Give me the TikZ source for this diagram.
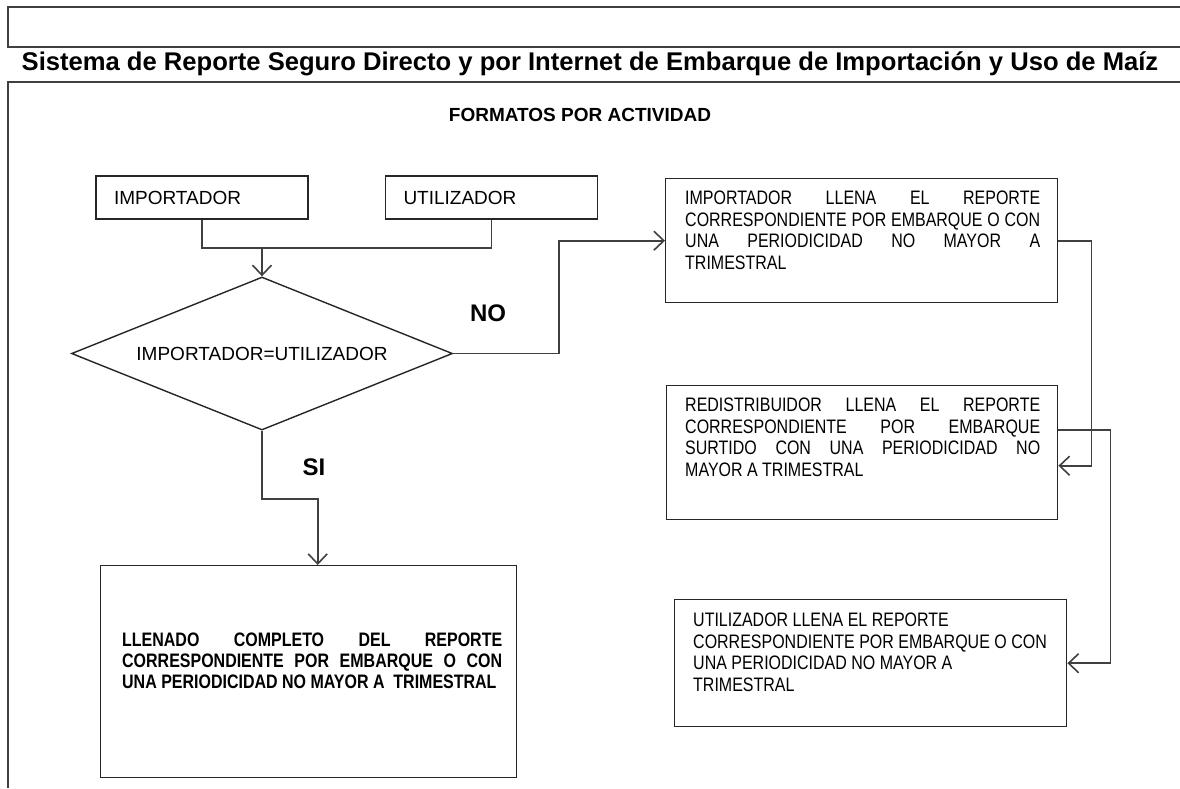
\documentclass[tikz,border=0pt]{standalone}
\usepackage{fontspec}
\setmainfont{Liberation Sans}
\newfontfamily\narrowfont[FakeStretch=0.82]{Liberation Sans}
\usetikzlibrary{shapes.geometric, arrows.meta}
\definecolor{linecolor}{RGB}{64, 64, 64}
\tikzstyle{frame} = [draw=linecolor, line width=1.6pt]
\tikzstyle{actor} = [rectangle, draw=black!85, line width=1.4pt,
                     minimum height=43pt, text width=176pt, inner xsep=18pt,
                     align=left, font=\fontsize{19}{21.5}\selectfont]
\tikzstyle{panel} = [rectangle, draw=black!85, line width=1.4pt,
                     anchor=north west, inner sep=0pt]
\tikzstyle{paneltext} = [anchor=north west, inner sep=0pt, align=left,
                         font=\narrowfont\fontsize{19.5}{21.5}\selectfont]
\tikzstyle{decision} = [diamond, aspect=2.5, draw=black!85, line width=1.4pt,
                        minimum width=381pt, minimum height=153pt, inner sep=0pt,
                        font=\fontsize{19}{21.5}\selectfont]
\tikzstyle{line} = [draw=linecolor, line width=1.6pt]
\tikzstyle{arrow} = [line, ->, >={Straight Barb[length=10pt,width=19pt,line width=1.6pt]}]
\tikzstyle{answer} = [font=\bfseries\fontsize{24}{24}\selectfont]
\newcommand{\jline}[2][355pt]{\makebox[#1][s]{#2}}

\begin{document}
\begin{tikzpicture}[x=1pt, y=-1pt]

        \useasboundingbox (0,0) rectangle (1180,788);

        \draw [frame] (1180,7) -- (8,7) -- (8,47) -- (1180,47);

        \draw [frame] (1180,82) -- (8,82) -- (8,788);

        \node (Title) [font=\bfseries\fontsize{25.6}{26}\selectfont] at (590,64) {Sistema de Reporte Seguro Directo y por Internet de Embarque de Importación y Uso de Maíz};

        \node (Formatos) [font=\bfseries\fontsize{19}{19}\selectfont] at (580,115) {FORMATOS POR ACTIVIDAD};

        \node (Importador) [actor] at (202,197.5) {IMPORTADOR};

        \node (Utilizador) [actor] at (491.5,197.5) {UTILIZADOR};

        \coordinate (Merge) at (262,248);

        \node (Decision) [decision] at (262,353.5) {IMPORTADOR=UTILIZADOR};

        \node (No) [answer] at (488,313) {NO};

        \node (Si) [answer] at (314,467) {SI};

        \node (FillImp) [panel, minimum width=392pt, minimum height=124pt] at (665,178) {};
        \node (FillImpText) [paneltext] at (685,191) {\jline{IMPORTADOR LLENA EL REPORTE}\\ \jline{CORRESPONDIENTE POR EMBARQUE O CON}\\ \jline{UNA PERIODICIDAD NO MAYOR A}\\ TRIMESTRAL};

        \node (FillRed) [panel, minimum width=391pt, minimum height=134pt] at (666,385) {};
        \node (FillRedText) [paneltext] at (685,398) {\jline{REDISTRIBUIDOR LLENA EL REPORTE}\\ \jline{CORRESPONDIENTE POR EMBARQUE}\\ \jline{SURTIDO CON UNA PERIODICIDAD NO}\\ MAYOR A TRIMESTRAL};

        \node (FillUti) [panel, minimum width=392pt, minimum height=127pt] at (674,599) {};
        \node (FillUtiText) [paneltext] at (693,613) {UTILIZADOR LLENA EL REPORTE\\ CORRESPONDIENTE POR EMBARQUE O CON\\ UNA PERIODICIDAD NO MAYOR A\\ TRIMESTRAL};

        \node (FillAll) [panel, minimum width=416pt, minimum height=212pt] at (100,565) {};
        \node (FillAllText) [paneltext, font=\narrowfont\bfseries\fontsize{19.5}{21}\selectfont] at (122,633) {\jline[380pt]{LLENADO COMPLETO DEL REPORTE}\\ \jline[380pt]{CORRESPONDIENTE POR EMBARQUE O CON}\\ UNA PERIODICIDAD NO MAYOR A\ \ TRIMESTRAL};

        \draw [line] (Importador.south) |- (Merge) -| (Utilizador.south);

        \draw [arrow] (Merge) -- (Decision.north);

        \draw [arrow] (Decision.east) -- ++(106,0) |- (FillImp.west);

        \draw [arrow] (Decision.south) -- ++(0,68) -| ([xshift=9pt]FillAll.north);

        \draw [arrow] (FillImp.east) -- ++(33,0) |- ([yshift=-13pt]FillRed.east);

        \draw [arrow] ([yshift=23pt]FillRed.east) -- ++(52,0) |- (FillUti.east);

\end{tikzpicture}
\end{document}
